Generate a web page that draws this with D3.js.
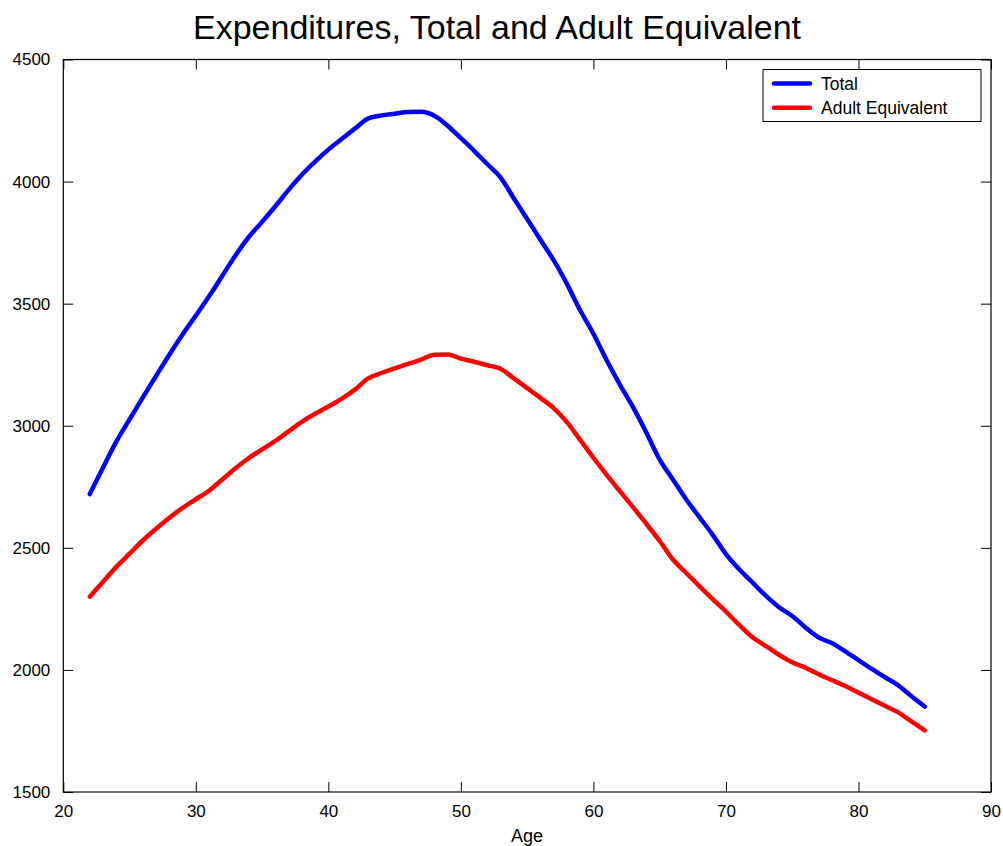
<!DOCTYPE html>
<html><head><meta charset="utf-8">
<script src="https://cdn.jsdelivr.net/npm/d3@7/dist/d3.min.js"></script>
<style>body{margin:0;background:#fff;} svg{display:block;} text{font-family:"Liberation Sans",Arial,sans-serif;}</style>
</head><body><svg id="c" width="1003" height="846"></svg>
<script>
const ages = d3.range(22, 86);
const total = [2720,2829,2935,3026,3116,3204,3291,3374,3451,3530,3614,3698,3773,3835,3899,3966,4028,4082,4131,4174,4217,4258,4271,4278,4285,4286,4270,4229,4178,4126,4071,4016,3931,3847,3762,3678,3581,3473,3377,3268,3168,3075,2971,2861,2780,2698,2626,2553,2474,2412,2358,2304,2257,2221,2174,2133,2110,2076,2040,2004,1970,1937,1892,1850];
const adultEq = [2300,2361,2422,2476,2530,2578,2623,2664,2699,2734,2780,2826,2868,2903,2938,2977,3016,3049,3079,3110,3148,3194,3216,3235,3253,3271,3291,3292,3275,3262,3248,3233,3194,3154,3114,3072,3015,2942,2869,2799,2732,2666,2598,2528,2452,2397,2343,2290,2239,2184,2134,2098,2062,2031,2009,1982,1958,1934,1907,1880,1853,1826,1789,1752];
const seriesNames = ["Total","Adult Equivalent"];
const seriesColors = ["#0000ff","#ff0000"];
const xTicks = [20,30,40,50,60,70,80,90];
const yTicks = [1500,2000,2500,3000,3500,4000,4500];
const title = "Expenditures, Total and Adult Equivalent";
const xLabel = "Age";

const L=63.3, R=991, T=59.5, B=792;
const svg = d3.select("#c");
const x = d3.scaleLinear().domain([20,90]).range([L,R]);
const y = d3.scaleLinear().domain([1500,4500]).range([B,T]);

svg.append("text").attr("x",497).attr("y",39).attr("text-anchor","middle").attr("font-size",34).text(title);

const g = svg.append("g");
const fmt = d3.format("d");
const axB = d3.axisBottom(x).tickValues(xTicks).tickSizeInner(-10).tickSizeOuter(0).tickPadding(13).tickFormat(fmt);
const axT = d3.axisTop(x).tickValues(xTicks).tickSizeInner(-10).tickSizeOuter(0).tickFormat("");
const axLf = d3.axisLeft(y).tickValues(yTicks).tickSizeInner(-10).tickSizeOuter(0).tickPadding(13).tickFormat(fmt);
const axRt = d3.axisRight(y).tickValues(yTicks).tickSizeInner(-10).tickSizeOuter(0).tickFormat("");
function style(sel){sel.select(".domain").remove(); sel.selectAll("line").attr("stroke","#000").attr("stroke-width",1); sel.selectAll("text").attr("font-size",17).attr("fill","#000").attr("font-family","Liberation Sans, Arial, sans-serif");}
g.append("g").attr("transform",`translate(0,${B})`).call(axB).call(style);
g.append("g").attr("transform",`translate(0,${T})`).call(axT).call(style);
g.append("g").attr("transform",`translate(${L},0)`).call(axLf).call(style);
g.append("g").attr("transform",`translate(${R},0)`).call(axRt).call(style);

svg.append("text").attr("x",527).attr("y",842).attr("text-anchor","middle").attr("font-size",18).text(xLabel);

const line = d3.line().x((d,i)=>x(ages[i])).y(d=>y(d)).curve(d3.curveMonotoneX);
[total, adultEq].forEach((s,k)=>{
  svg.append("path").attr("d",line(s)).attr("fill","none").attr("stroke",seriesColors[k]).attr("stroke-width",4.5).attr("stroke-linecap","round").attr("stroke-linejoin","round");
});

svg.append("rect").attr("x",L).attr("y",T).attr("width",R-L).attr("height",B-T).attr("fill","none").attr("stroke","#000").attr("stroke-width",1.2);

const lg = svg.append("g");
lg.append("rect").attr("x",763).attr("y",69.5).attr("width",218).attr("height",52).attr("fill","#fff").attr("stroke","#000").attr("stroke-width",1);
seriesNames.forEach((n,k)=>{
  const yy = 83.5 + k*24.3;
  lg.append("line").attr("x1",774).attr("x2",810).attr("y1",yy).attr("y2",yy).attr("stroke",seriesColors[k]).attr("stroke-width",4.5).attr("stroke-linecap","round");
  lg.append("text").attr("x",821).attr("y",yy+6).attr("font-size",17.5).text(n);
});
</script></body></html>
